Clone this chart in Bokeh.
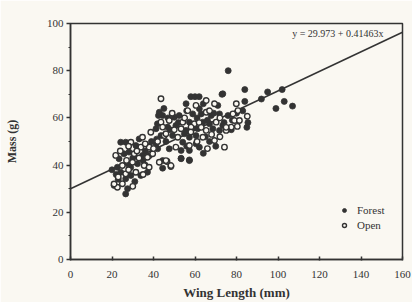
from bokeh.plotting import figure
from bokeh.models import Label, SingleIntervalTicker, Legend, LegendItem
from bokeh.embed import file_html
from bokeh.resources import INLINE

title_text = "1997"
x_label = "Wing Length (mm)"
y_label = "Mass (g)"
intercept = 29.973
slope = 0.41463
eq_text = "y = 29.973 + 0.41463x"

forest_wing = [76, 84, 95, 102, 92, 84, 99, 103, 107, 73, 83, 85, 85.5, 77.5,
               42.4, 41.2, 26.6, 24.2, 33.1, 31.5, 23.4, 25.8, 28.2, 34.7, 42, 22.6,
               27.5, 32.3, 24.2, 29.1, 33.9, 37.1, 26.6, 21, 27.5, 26.6, 44.4, 44.4,
               53.3, 57.3,
               58, 60, 62, 73.4, 71, 55.7, 62.1, 58.9, 63, 67.8, 71.8, 75.9, 42.8, 44.4,
               50, 52.4, 57.3, 63.8, 67, 73.4, 41.9, 46.8, 50.8, 55.7, 61.3, 68.6, 71.8,
               43.6, 49.2, 54.9, 57.3, 60.5, 60.5, 54.1, 47.6, 53.3, 57.3, 62.1, 53.3,
               57.3, 41.2, 41.5,
               36, 38, 35, 30, 22, 20, 23, 29, 31, 36, 38, 39, 45, 47, 52, 56, 64, 66,
               69, 74, 78, 65, 67, 70, 59, 61, 48, 46, 56, 64, 80]
forest_mass = [80, 72, 71, 72, 68, 67, 64, 67, 65, 70, 63, 56, 58, 55,
               61, 55.4, 49.7, 49.7, 51.1, 48.3, 42.7, 44.8, 45.5, 44.1, 46.9, 39.1,
               40.6, 40.6, 37, 35.6, 35.6, 37, 34.2, 31.4, 30, 27.8, 41.9, 38.7,
               42.9, 42.2,
               69, 69, 69, 70.2, 65.3, 66, 63.9, 61.7, 61.7, 61, 61.7, 61, 62.4, 61,
               60.3, 61, 58.2, 58.2, 57.5, 56.8, 57.5, 56.1, 56.8, 54.7, 55.4, 55.4, 54.7,
               52.5, 52.5, 53.3, 51.8, 52.5, 49, 49.7, 46.9, 46.2, 46.2, 47.6, 42.7,
               41.9, 49, 51,
               46, 48, 42, 43, 36, 38, 34, 39, 33, 40, 44, 50, 64, 60, 58, 63, 66, 59,
               62, 58, 59, 52, 50, 48, 56, 60, 55, 50, 48, 45, 62]

open_wing = [43.6, 43.6, 38.7, 45.2, 29.1, 34.7, 33.9, 37.9, 21.8, 30.7, 37.1, 39.6,
             25, 29.9, 35.5, 37.9, 26.6, 31.5, 22.6, 25, 46.5, 48.4,
             65.4, 69.4, 60.5, 56.5, 65.4, 78.3, 47.6, 54.1, 59.7, 70.2, 77.5, 44.4,
             53.3, 58.1, 65.4, 75, 46, 51.7, 63.8, 69.4, 57.3, 50.8, 74.2, 42.8, 46,
             48.4,
             79.9, 80.7, 79, 81.4, 85.2, 80.4, 75,
             21, 23, 28, 32, 24, 27, 35, 33, 40, 42, 50, 55, 62, 67, 72, 68, 61, 66,
             72, 49, 58, 63, 36, 28, 30]
open_mass = [68.1, 58.2, 53.9, 52.5, 49.7, 51.8, 47.6, 47.6, 44.1, 44.8, 43.3, 44.8,
             39.8, 41.2, 39.8, 39.1, 36.3, 37, 30.6, 32.1, 41.5, 39.4,
             67.4, 66, 65.3, 63.1, 62.4, 61.7, 58.9, 58.2, 57.5, 58.2, 56.1, 56.1,
             55.4, 56.1, 54.7, 54.7, 53.3, 51.8, 51.8, 50.4, 48.3, 47.6, 47.6, 41.2, 41.9,
             39.8,
             66, 63.1, 58.9, 58.9, 60.7, 56.4, 56,
             32, 35, 38, 46, 46, 42, 36, 43, 47, 50, 55, 60, 58, 63, 60, 53, 50, 47,
             52, 62, 54, 56, 49, 48, 31]

ink = "#333333"
bg = "#faf8f2"
font = "Liberation Serif"

p = figure(width=412, height=302, x_range=(0, 160), y_range=(0, 100),
           output_backend="svg", toolbar_location=None,
           min_border_left=70, min_border_right=10, min_border_top=23, min_border_bottom=43)
p.background_fill_color = bg
p.border_fill_color = bg
p.xgrid.visible = False
p.ygrid.visible = False
p.outline_line_color = ink
p.outline_line_width = 1.5

p.xaxis.ticker = SingleIntervalTicker(interval=20, num_minor_ticks=0)
p.yaxis.ticker = SingleIntervalTicker(interval=20, num_minor_ticks=2)
for ax in (p.xaxis[0], p.yaxis[0]):
    ax.axis_line_color = ink
    ax.axis_line_width = 1.5
    ax.major_tick_line_color = ink
    ax.major_tick_line_width = 1.5
    ax.minor_tick_line_color = ink
    ax.major_label_text_font = font
    ax.major_label_text_font_size = "11px"
    ax.major_label_text_color = ink
    ax.axis_label_text_font = font
    ax.axis_label_text_font_size = "12px"
    ax.axis_label_text_font_style = "bold"
    ax.axis_label_text_color = ink

p.xaxis.axis_label_text_font_size = "13px"
p.xaxis.major_tick_in = 3
p.xaxis.major_tick_out = 1
p.xaxis.major_label_standoff = 10
p.xaxis.axis_label = x_label
p.xaxis.axis_label_standoff = 4

p.yaxis.major_tick_in = 0
p.yaxis.major_tick_out = 4
p.yaxis.minor_tick_in = 0
p.yaxis.minor_tick_out = 2
p.yaxis.major_label_standoff = 3
p.yaxis.axis_label = y_label
p.yaxis.axis_label_standoff = 25

p.line([0, 160], [intercept, intercept + slope * 160], line_color=ink, line_width=1.5)

r_f = p.scatter(forest_wing, forest_mass, marker="circle", size=6,
                fill_color=ink, line_color=ink, line_width=0.8)
r_o = p.scatter(open_wing, open_mass, marker="circle", size=5.5,
                fill_color=bg, line_color=ink, line_width=1.4)

legend = Legend(items=[LegendItem(label="Forest", renderers=[r_f]),
                       LegendItem(label="Open", renderers=[r_o])],
                location=(269, 28))
legend.background_fill_alpha = 0
legend.border_line_alpha = 0
legend.padding = 0
legend.margin = 0
legend.spacing = 3
legend.glyph_width = 10
legend.glyph_height = 12
legend.label_height = 12
legend.label_standoff = 8
legend.label_text_font = font
legend.label_text_font_size = "11px"
legend.label_text_color = ink
p.add_layout(legend)

p.add_layout(Label(x=77, y=100, y_offset=6, text=title_text, text_align="center",
                   text_baseline="alphabetic", text_font=font, text_font_size="13px",
                   text_font_style="bold", text_color=ink))
p.add_layout(Label(x=150.8, y=100, y_offset=-10, text=eq_text, text_align="right",
                   text_baseline="alphabetic", text_font=font, text_font_size="10px",
                   text_color=ink))

open("out.html", "w").write(file_html(p, INLINE))
